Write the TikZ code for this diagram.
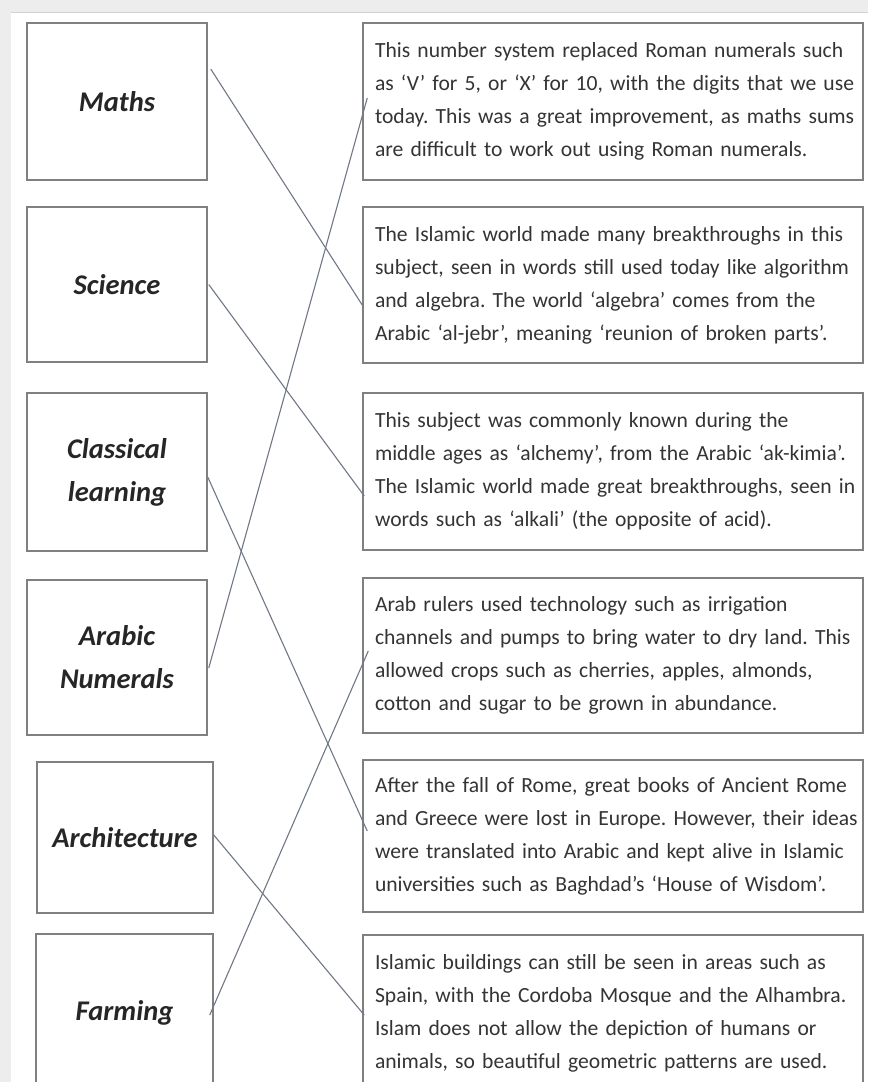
\documentclass[tikz,border=0pt]{standalone}
\usepackage{fontspec}
\setmainfont{Carlito}
\usepackage{tikz}

\definecolor{boxgray}{RGB}{128,128,128}
\definecolor{linkgray}{RGB}{112,120,134}
\definecolor{txtgray}{RGB}{52,52,52}

\begin{document}
\begin{tikzpicture}[x=1pt,y=-1pt,
	subj/.style={draw=boxgray,line width=1.5pt,minimum width=180pt,align=center,
		font=\fontsize{28.5}{43}\selectfont\bfseries\itshape,text=black!85},
	desc/.style={draw=boxgray,line width=1.5pt,minimum width=500pt,text width=500pt,
		inner xsep=0pt,align=left,
		execute at begin node={\leftskip=12pt\relax\rightskip=-30pt plus 1fil\relax},
		font=\fontsize{21.6}{33}\selectfont\frenchspacing,text=txtgray},
	link/.style={draw=linkgray,line width=1.1pt}]
		\useasboundingbox (0,0) rectangle (868,1082);
		\clip (0,0) rectangle (868,1082);
		\fill[black!7] (0,0) rectangle (868,1082);
		\fill[white] (11,13) rectangle (868,1082);
		\draw[black!18,line width=1pt] (11,12.5) -- (868,12.5);
		%
		\node[subj,minimum height=157pt] (M) at (117,101.5) {Maths};
		\node[subj,minimum height=155pt] (S) at (117,284.5) {Science};
		\node[subj,minimum height=158pt] (C) at (117,472) {Classical\\learning};
		\node[subj,minimum height=155pt] (N) at (117,657.5) {Arabic\\Numerals};
		\node[subj,minimum width=176pt,minimum height=151pt] (A) at (125,837.5) {Architecture};
		\node[subj,minimum width=177pt,minimum height=158pt] (F) at (124.5,1013) {Farming};
		%
		\node[desc,minimum height=157pt] (N') at (613,101.5) {This number system replaced Roman numerals such\\
			as ‘V’ for 5, or ‘X’ for 10, with the digits that we use\\
			today. This was a great improvement, as maths sums\\
			are difficult to work out using Roman numerals.};
		\node[desc,minimum height=156pt] (M') at (613,285) {The Islamic world made many breakthroughs in this\\
			subject, seen in words still used today like algorithm\\
			and algebra. The world ‘algebra’ comes from the\\
			Arabic ‘al-jebr’, meaning ‘reunion of broken parts’.};
		\node[desc,minimum height=157pt] (S') at (613,471.5) {This subject was commonly known during the\\
			middle ages as ‘alchemy’, from the Arabic ‘ak-kimia’.\\
			The Islamic world made great breakthroughs, seen in\\
			words such as ‘alkali’ (the opposite of acid).};
		\node[desc,minimum height=155pt] (F') at (613,655.5) {Arab rulers used technology such as irrigation\\
			channels and pumps to bring water to dry land. This\\
			allowed crops such as cherries, apples, almonds,\\
			cotton and sugar to be grown in abundance.};
		\node[desc,minimum height=152pt] (C') at (613,836) {After the fall of Rome, great books of Ancient Rome\\
			and Greece were lost in Europe. However, their ideas\\
			were translated into Arabic and kept alive in Islamic\\
			universities such as Baghdad’s ‘House of Wisdom’.};
		\node[desc,minimum height=157pt] (A') at (613,1013.5) {Islamic buildings can still be seen in areas such as\\
			Spain, with the Cordoba Mosque and the Alhambra.\\
			Islam does not allow the depiction of humans or\\
			animals, so beautiful geometric patterns are used.};
		%
		\path[link]
		([xshift=3pt,yshift=32.5pt]M.east) edge ([yshift=-20pt]M'.west)
		([xshift=1pt]S.east) edge ([xshift=2pt,yshift=-24.5pt]S'.west)
		([yshift=-5pt]C.east) edge ([xshift=5pt,yshift=5pt]C'.west)
		([xshift=1pt,yshift=-10.5pt]N.east) edge ([xshift=5pt,yshift=3.5pt]N'.west)
		([yshift=2.5pt]A.east) edge ([xshift=2pt,yshift=-1.5pt]A'.west)
		([xshift=-4pt,yshift=-2pt]F.east) edge ([xshift=6pt,yshift=4.5pt]F'.west);
	\end{tikzpicture}
\end{document}
